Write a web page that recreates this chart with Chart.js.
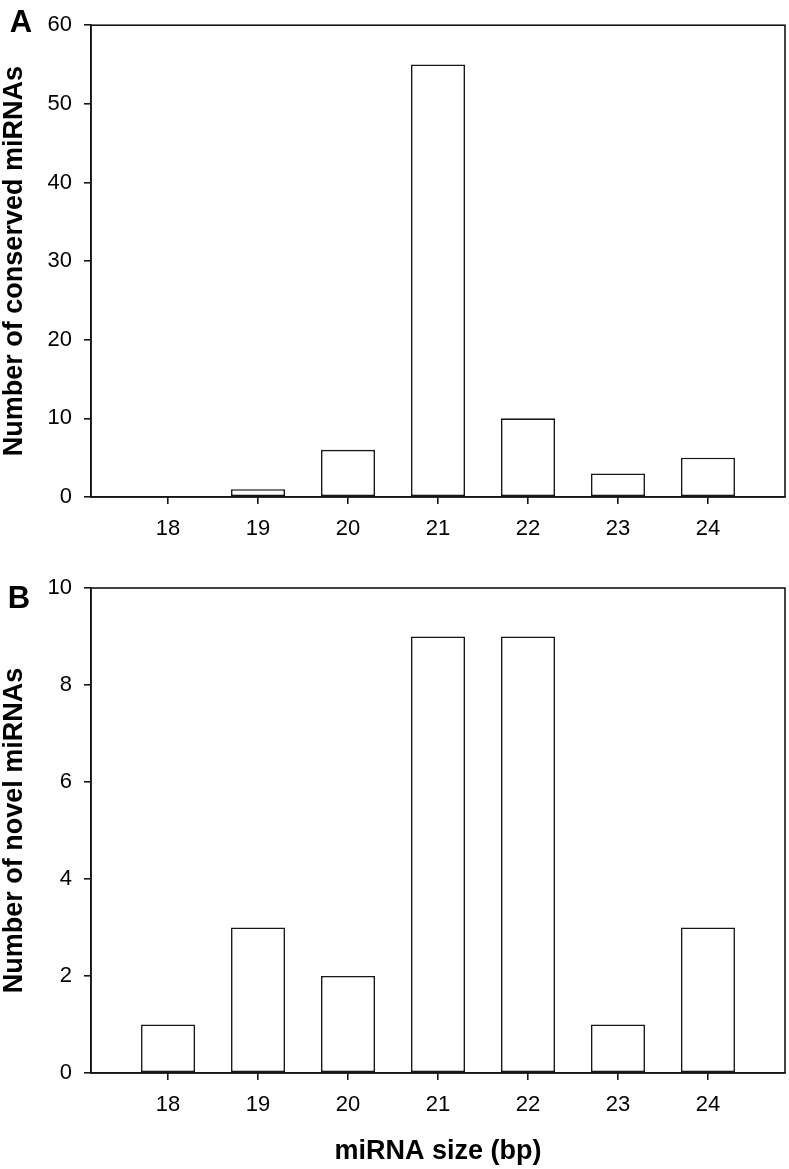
<!DOCTYPE html>
<html>
<head>
<meta charset="utf-8">
<script src="https://cdn.jsdelivr.net/npm/chart.js@4.4.0/dist/chart.umd.min.js"></script>
<style>
  html, body { margin: 0; padding: 0; background: #fff; }
  body { width: 789px; height: 1169px; position: relative; overflow: hidden; font-family: "Liberation Sans", Arial, sans-serif; }
  canvas { position: absolute; left: 0; }
  #cA { top: 0; }
  #cB { top: 560px; }
  .panel { position: absolute; font: bold 31px "Liberation Sans", Arial, sans-serif; color: #000; line-height: 1; transform: translate(-50%, -50%); }
</style>
</head>
<body>
<canvas id="cA" width="789" height="560"></canvas>
<canvas id="cB" width="789" height="609"></canvas>
<div class="panel" style="left:21px; top:21px;">A</div>
<div class="panel" style="left:19px; top:597px;">B</div>
<script>
const sizes = [18, 19, 20, 21, 22, 23, 24];
const conservedCounts = [0, 1, 6, 55, 10, 3, 5];
const novelCounts = [1, 3, 2, 9, 9, 1, 3];
const conservedTicks = [0, 10, 20, 30, 40, 50, 60];
const novelTicks = [0, 2, 4, 6, 8, 10];

const ink = '#161616';
const tickFont = { family: '"Liberation Sans", Arial, sans-serif', size: 22 };
const titleFont = { family: '"Liberation Sans", Arial, sans-serif', size: 27, weight: 'bold', lineHeight: 1 };

const frame = {
  id: 'frame',
  afterDatasetsDraw(chart) {
    const { ctx, chartArea: a } = chart;
    ctx.save();
    ctx.strokeStyle = ink;
    ctx.lineWidth = 1.6;
    ctx.strokeRect(a.left, a.top, a.right - a.left, a.bottom - a.top);
    ctx.restore();
  }
};

function makeChart(id, values, yTicks, yTitle, showXTitle, padTop, xHeight) {
  const points = sizes.map((s, i) => ({ x: s, y: values[i] }));
  return new Chart(document.getElementById(id), {
    type: 'bar',
    data: {
      datasets: [{
        data: points,
        backgroundColor: '#ffffff',
        borderColor: ink,
        borderWidth: 1.6,
        borderSkipped: false,
        categoryPercentage: 1,
        barPercentage: 0.6
      }]
    },
    options: {
      responsive: false,
      animation: false,
      devicePixelRatio: 1,
      layout: { padding: { top: padTop, right: 4, left: 0, bottom: 0 } },
      plugins: { legend: { display: false }, tooltip: { enabled: false } },
      scales: {
        x: {
          type: 'linear',
          position: 'bottom',
          offset: false,
          min: 17.144,
          max: 24.856,
          afterBuildTicks: (axis) => { axis.ticks = sizes.map(v => ({ value: v })); },
          afterFit: (axis) => { axis.height = xHeight; },
          grid: { offset: false, drawOnChartArea: false, drawTicks: true, tickLength: 7, color: ink, lineWidth: 1.6 },
          border: { display: true, color: ink, width: 1.6 },
          ticks: { color: '#000', font: tickFont, padding: 12, maxRotation: 0, autoSkip: false },
          title: { display: showXTitle, text: 'miRNA size (bp)', color: '#000', font: titleFont, padding: { top: 0, bottom: 4 } }
        },
        y: {
          type: 'linear',
          position: 'left',
          min: yTicks[0],
          max: yTicks[yTicks.length - 1],
          afterBuildTicks: (axis) => { axis.ticks = yTicks.map(v => ({ value: v })); },
          afterFit: (axis) => { axis.width = 91; },
          grid: { drawOnChartArea: false, drawTicks: true, tickLength: 7, color: ink, lineWidth: 1.6 },
          border: { display: true, color: ink, width: 1.6 },
          ticks: { color: '#000', font: tickFont, padding: 12 },
          title: { display: true, text: yTitle, color: '#000', font: titleFont, padding: { top: 1, bottom: 0 } }
        }
      }
    },
    plugins: [frame]
  });
}

makeChart('cA', conservedCounts, conservedTicks, 'Number of conserved miRNAs', false, 12, 63);
makeChart('cB', novelCounts, novelTicks, 'Number of novel miRNAs', true, 28, 96);
</script>
</body>
</html>
